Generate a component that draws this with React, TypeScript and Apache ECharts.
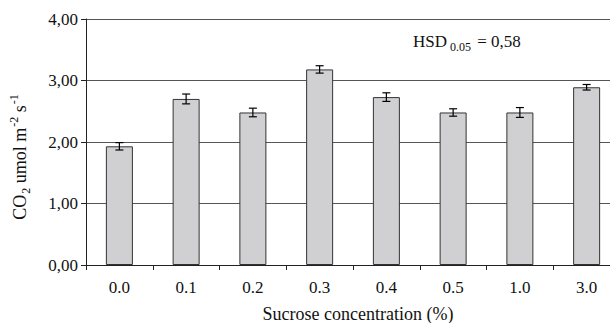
import React, { useEffect, useRef } from "react";
import * as echarts from "echarts";

const categories = ["0.0", "0.1", "0.2", "0.3", "0.4", "0.5", "1.0", "3.0"];
const values = [1.93, 2.7, 2.48, 3.18, 2.73, 2.48, 2.48, 2.89];
const errors = [0.06, 0.08, 0.07, 0.06, 0.07, 0.06, 0.08, 0.045];
const yTicks = [0, 1, 2, 3, 4];

const FONT = "Liberation Serif";

export default function App() {
  const ref = useRef<HTMLDivElement>(null);
  useEffect(() => {
    if (!ref.current) return;
    const chart = echarts.init(ref.current, undefined, { renderer: "svg" });
    const errData = values.map((v, i) => [i, v - errors[i], v + errors[i]]);
    chart.setOption({
      animation: false,
      backgroundColor: "#fff",
      textStyle: { fontFamily: FONT },
      grid: { left: 86, top: 19, width: 534, height: 246, outerBoundsMode: "none", containLabel: false },
      xAxis: {
        type: "category",
        data: categories,
        boundaryGap: true,
        axisLine: { show: true, lineStyle: { color: "#222", width: 1 } },
        axisTick: { show: true, length: 5, lineStyle: { color: "#222" } },
        axisLabel: { fontFamily: FONT, fontSize: 17, color: "#111", margin: 14 },
        name: "Sucrose concentration (%)",
        nameLocation: "middle",
        nameGap: 40,
        nameTextStyle: { fontFamily: FONT, fontSize: 18, color: "#111", padding: [0, 0, 0, 10] },
      },
      yAxis: {
        type: "value",
        min: yTicks[0],
        max: yTicks[yTicks.length - 1],
        interval: 1,
        axisLine: { show: true, lineStyle: { color: "#222", width: 1 } },
        axisTick: { show: true, length: 5, lineStyle: { color: "#222" } },
        axisLabel: {
          fontFamily: FONT,
          fontSize: 17,
          color: "#111",
          margin: 8,
          formatter: (v: number) => v.toFixed(2).replace(".", ","),
        },
        splitLine: { show: true, lineStyle: { color: "#555", width: 1 } },
      },
      graphic: [
        {
          type: "text",
          x: 20,
          y: 157,
          rotation: Math.PI / 2,
          style: {
            text: "{a|CO}{sub|2}{a| umol m}{sup|-2}{a| s}{sup|-1}",
            align: "center",
            verticalAlign: "middle",
            fill: "#111",
            rich: {
              a: { fontFamily: FONT, fontSize: 18, fill: "#111", lineHeight: 24, verticalAlign: "middle" },
              sub: { fontFamily: FONT, fontSize: 12, fill: "#111", lineHeight: 24, verticalAlign: "bottom", padding: [0, 0, 0, 1] },
              sup: { fontFamily: FONT, fontSize: 12, fill: "#111", lineHeight: 24, verticalAlign: "top", padding: [0, 0, 0, 1] },
            },
          },
        },
        {
          type: "text",
          left: 413,
          top: 33,
          style: {
            text: "{a|HSD}{sub| 0.05}{a| = 0,58}",
            fill: "#111",
            rich: {
              a: { fontFamily: FONT, fontSize: 17, fill: "#111", lineHeight: 22, verticalAlign: "middle" },
              sub: { fontFamily: FONT, fontSize: 12, fill: "#111", lineHeight: 22, verticalAlign: "bottom", padding: [0, 2, 0, 0] },
            },
          },
        },
      ],
      series: [
        {
          type: "bar",
          data: values,
          barWidth: 27,
          itemStyle: { color: "#d0d0d2", borderColor: "#333", borderWidth: 1 },
          z: 2,
        },
        {
          type: "custom",
          data: errData,
          z: 3,
          renderItem: (params: any, api: any) => {
            const i = api.value(0);
            const lo = api.coord([i, api.value(1)]);
            const hi = api.coord([i, api.value(2)]);
            const x = lo[0];
            const hw = 4;
            const style = { stroke: "#000", lineWidth: 1.2 };
            return {
              type: "group",
              children: [
                { type: "line", shape: { x1: x, y1: lo[1], x2: x, y2: hi[1] }, style },
                { type: "line", shape: { x1: x - hw, y1: lo[1], x2: x + hw, y2: lo[1] }, style },
                { type: "line", shape: { x1: x - hw, y1: hi[1], x2: x + hw, y2: hi[1] }, style },
              ],
            };
          },
        },
      ],
    });
    return () => chart.dispose();
  }, []);
  return <div ref={ref} style={{ width: 610, height: 323, position: "absolute", left: 0, top: 0 }} />;
}
